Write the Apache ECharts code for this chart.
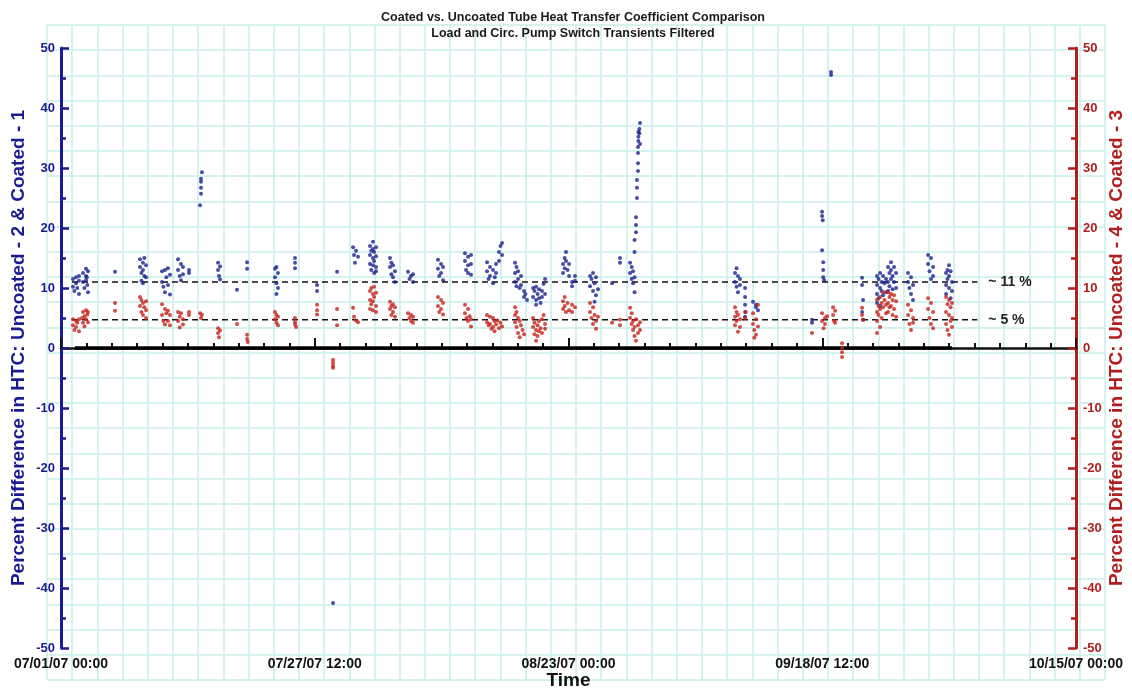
<!DOCTYPE html>
<html>
<head>
<meta charset="utf-8">
<title>HTC comparison</title>
<script src="https://cdn.jsdelivr.net/npm/echarts@6/dist/echarts.min.js"></script>
<style>
  html, body { margin: 0; padding: 0; background: #fff; }
  #main { width: 1132px; height: 690px; }
</style>
</head>
<body>
<div id="main"></div>
<script>
// x values are days after 07/01/07 00:00
var startDate = Date.UTC(2007, 6, 1);
var xTickDays = [0, 26.5, 53, 79.5, 106];

// Uncoated - 2 & Coated - 1 (left axis, blue)
var bluePoints = [
  [1.25,11.5],[1.25,10.2],[1.4,9.5],[1.57,11.8],[1.57,10.8],[1.7,10.0],[1.88,12.0],[1.88,11.2],[1.88,9.0],
  [2.3,12.5],[2.3,11.0],[2.45,10.0],[2.61,13.2],[2.61,12.0],[2.61,11.3],[2.75,10.5],[2.82,12.8],[2.82,9.3],[2.7,11.8],
  [5.64,12.7],
  [8.25,14.8],[8.25,13.5],[8.4,12.5],[8.4,11.2],[8.56,14.2],[8.56,13.0],[8.7,12.0],[8.88,13.8],[8.88,11.8],[8.56,10.8],[8.7,15.0],
  [10.55,12.8],[10.55,11.0],[10.7,10.2],[10.86,13.0],[10.86,9.3],[11.0,11.8],[11.17,13.3],[11.17,10.5],[11.38,12.2],[11.38,8.9],
  [12.22,14.8],[12.22,13.0],[12.4,12.0],[12.53,14.0],[12.53,11.3],[12.74,13.5],[12.74,12.3],
  [13.37,13.0],[13.37,12.5],
  [14.52,23.8],[14.62,25.7],[14.62,26.7],[14.62,27.7],[14.62,28.2],[14.72,29.3],
  [16.4,14.2],[16.4,13.0],[16.5,12.0],[16.61,13.6],[16.61,11.4],
  [18.38,9.7],
  [19.43,14.3],[19.43,13.2],
  [22.35,13.2],[22.35,11.8],[22.5,10.8],[22.5,9.0],[22.66,12.5],[22.66,10.0],[22.5,13.5],
  [24.44,15.0],[24.44,14.2],[24.44,13.3],
  [26.74,10.5],[26.74,9.5],
  [28.41,-42.5],
  [28.83,12.7],
  [30.5,16.8],[30.6,15.5],[30.81,16.2],[31.02,15.2],[30.7,14.2],
  [32.27,17.0],[32.27,15.5],[32.27,14.0],[32.4,16.2],[32.4,13.0],[32.58,17.7],[32.58,16.5],[32.58,15.0],[32.58,13.8],
  [32.7,16.0],[32.7,14.5],[32.7,12.5],[32.9,16.8],[32.9,15.3],[32.9,13.5],[32.9,12.8],
  [34.36,15.0],[34.36,13.5],[34.5,14.2],[34.5,12.3],[34.67,13.8],[34.67,11.8],[34.88,12.8],[34.88,11.0],
  [36.24,12.7],[36.4,11.5],[36.55,12.0],[36.76,11.0],[36.76,12.3],
  [39.37,14.7],[39.37,13.2],[39.5,12.0],[39.69,14.0],[39.69,12.5],[39.9,13.5],[39.9,11.3],
  [42.19,15.8],[42.19,14.5],[42.3,13.0],[42.51,15.2],[42.51,13.8],[42.51,12.5],[42.82,15.5],[42.82,14.0],[42.82,12.2],
  [44.49,14.3],[44.49,12.8],[44.65,11.5],[44.8,13.5],[44.8,12.0],[45.12,13.0],[45.12,10.8],[45.3,11.8],[45.43,14.0],
  [45.43,12.5],[45.74,16.0],[45.74,14.5],[45.9,17.0],[46.06,17.5],[46.06,15.5],
  [47.42,14.2],[47.42,12.5],[47.42,11.0],[47.57,13.5],[47.57,10.3],[47.73,12.8],[47.73,11.5],[47.9,10.0],
  [48.04,12.0],[48.04,10.5],[48.36,9.5],[48.36,8.5],[48.5,9.0],[48.67,8.0],
  [49.3,10.0],[49.3,8.5],[49.45,9.5],[49.61,10.2],[49.61,8.0],[49.61,7.2],[49.77,9.0],[49.92,9.8],[49.92,8.3],
  [50.08,7.5],[50.23,9.5],[50.23,8.5],[50.4,10.7],[50.55,11.5],[50.55,9.0],
  [52.43,14.0],[52.43,12.5],[52.6,15.0],[52.6,13.3],[52.74,16.0],[52.74,14.5],[52.9,13.0],[53.06,12.0],[53.06,14.0],
  [53.37,11.0],[53.37,10.3],[53.68,12.0],[53.68,11.2],
  [55.25,12.0],[55.25,10.3],[55.4,11.5],[55.56,12.5],[55.56,9.5],[55.72,10.8],[55.87,11.8],[55.87,8.8],[56.08,9.8],[55.72,7.7],
  [57.55,10.8],
  [58.38,15.0],[58.38,14.2],
  [59.43,14.2],[59.43,12.5],[59.6,13.5],[59.6,11.5],[59.74,12.8],[59.74,10.8],[59.9,9.3],[59.9,11.8],
  [59.9,16.0],[59.9,18.0],[60.05,19.3],[60.05,20.5],[60.05,21.8],[60.15,25.0],[60.15,26.7],[60.15,28.0],
  [60.26,29.5],[60.26,30.8],[60.26,32.5],[60.26,33.5],[60.3,34.5],[60.3,35.2],[60.3,36.0],[60.4,36.5],
  [60.4,35.8],[60.47,34.0],[60.47,37.5],
  [70.39,12.5],[70.39,11.0],[70.55,13.3],[70.55,10.2],[70.7,12.0],[70.7,9.3],[70.91,11.5],[70.91,10.5],
  [71.44,10.0],[71.44,8.5],[71.44,7.2],[71.5,6.0],[71.44,5.2],
  [72.27,7.7],[72.58,7.2],[72.79,6.3],[72.58,6.8],
  [78.43,4.7],[78.43,4.2],
  [79.48,22.7],[79.48,22.0],[79.55,21.3],[79.48,16.3],[79.6,14.3],[79.6,13.0],[79.6,11.8],[79.7,11.3],
  [80.42,46.0],[80.42,45.5],
  [83.66,11.7],[83.66,10.5],[83.76,8.0],[83.66,6.0],[83.76,4.7],
  [85.22,12.0],[85.22,10.5],[85.22,9.0],[85.22,7.5],[85.38,11.5],[85.38,8.3],[85.54,12.5],[85.54,10.0],[85.54,7.0],
  [85.7,11.0],[85.7,9.5],[85.85,12.0],[85.85,8.8],[86.0,10.8],[86.16,11.5],[86.16,9.3],
  [86.37,13.5],[86.37,11.0],[86.37,9.5],[86.52,12.5],[86.52,10.3],[86.68,14.3],[86.68,13.0],[86.68,11.5],
  [86.84,12.0],[86.84,9.8],[87.0,13.5],[87.0,11.0],[87.21,12.5],[87.21,10.0],
  [88.46,12.5],[88.46,11.0],[88.6,10.0],[88.77,11.8],[88.77,9.0],[88.98,10.5],[88.98,8.0],
  [90.55,15.5],[90.55,14.0],[90.7,12.8],[90.86,15.0],[90.86,11.5],[91.07,13.5],[91.07,12.0],
  [92.43,12.5],[92.43,10.5],[92.43,9.0],[92.58,13.0],[92.58,11.5],[92.74,13.8],[92.74,12.0],[92.74,10.0],
  [92.9,12.8],[92.9,8.3],[93.05,11.0],[93.05,9.5]
];

// Uncoated - 4 & Coated - 3 (right axis, red)
var redPoints = [
  [1.25,4.8],[1.25,3.8],[1.4,3.0],[1.57,4.5],[1.57,3.5],[1.7,4.2],[1.88,4.8],[1.88,2.8],
  [2.2,5.0],[2.3,6.0],[2.3,4.2],[2.45,5.3],[2.45,3.6],[2.61,6.3],[2.61,4.8],[2.75,5.6],[2.82,4.3],[2.82,6.0],
  [5.64,7.5],[5.64,6.2],
  [8.25,8.5],[8.25,7.0],[8.4,6.0],[8.4,8.0],[8.56,7.5],[8.56,5.5],[8.7,6.8],[8.88,7.8],[8.88,6.3],[8.88,5.0],
  [10.55,7.3],[10.55,5.5],[10.7,4.5],[10.86,6.5],[10.86,3.9],[11.0,5.8],[11.17,6.2],[11.17,4.5],[11.38,5.5],[11.38,3.8],
  [12.22,6.0],[12.22,4.5],[12.4,5.2],[12.4,3.4],[12.53,5.8],[12.74,4.8],[12.74,3.9],
  [13.37,6.0],[13.37,5.5],
  [14.52,5.8],[14.62,5.0],[14.72,5.5],
  [16.4,3.3],[16.4,2.5],[16.5,1.8],[16.61,2.9],
  [18.38,4.0],
  [19.43,2.2],[19.43,1.5],[19.5,1.0],
  [22.35,6.0],[22.35,4.8],[22.5,5.5],[22.5,4.2],[22.66,5.2],[22.66,3.8],
  [24.44,5.0],[24.44,4.3],[24.55,3.5],[24.44,3.9],
  [26.74,7.2],[26.74,6.3],[26.74,5.6],
  [28.41,-2.0],[28.41,-2.5],[28.41,-3.0],[28.41,-3.3],
  [28.83,6.5],[28.83,3.8],
  [30.5,6.7],[30.6,5.2],[30.81,4.6],[31.02,4.3],
  [32.27,9.5],[32.27,8.0],[32.27,6.5],[32.4,10.0],[32.4,7.3],[32.58,9.0],[32.58,7.8],[32.58,6.3],
  [32.7,10.2],[32.7,8.5],[32.9,9.2],[32.9,7.0],[32.9,6.0],
  [34.36,7.7],[34.36,6.5],[34.5,7.0],[34.5,5.5],[34.67,7.3],[34.67,6.0],[34.88,6.8],[34.88,5.2],
  [36.24,5.8],[36.4,5.0],[36.55,5.5],[36.55,4.5],[36.76,4.2],[36.76,5.2],
  [39.37,8.5],[39.37,7.0],[39.5,6.0],[39.69,8.0],[39.69,6.5],[39.9,7.5],[39.9,5.6],
  [42.19,7.2],[42.19,5.8],[42.35,5.0],[42.51,6.5],[42.51,4.5],[42.67,5.3],[42.82,4.8],[42.82,3.6],
  [44.49,5.5],[44.49,4.3],[44.65,3.8],[44.8,5.2],[44.8,4.0],[44.96,3.2],[45.12,5.0],[45.12,3.5],
  [45.28,4.5],[45.28,2.8],[45.43,3.9],[45.59,4.6],[45.74,3.3],[45.9,4.2],[46.06,3.6],
  [47.42,6.8],[47.42,5.5],[47.42,4.3],[47.57,6.0],[47.57,3.5],[47.73,5.0],[47.73,2.5],[47.9,4.5],[47.9,1.8],
  [48.04,3.8],[48.2,3.0],[48.36,2.3],
  [49.3,5.0],[49.3,3.5],[49.45,2.3],[49.45,4.2],[49.61,3.0],[49.61,1.2],[49.77,3.8],[49.77,2.0],[49.92,4.5],
  [49.92,2.8],[50.08,3.3],[50.23,4.8],[50.23,2.5],[50.4,5.5],[50.55,4.0],[50.55,3.2],
  [52.43,7.8],[52.43,6.5],[52.6,8.5],[52.6,7.0],[52.74,6.0],[52.9,7.5],[53.06,6.3],[53.37,7.2],[53.37,6.0],[53.68,6.8],
  [55.25,7.5],[55.25,6.0],[55.4,5.0],[55.56,6.8],[55.56,4.0],[55.72,5.5],[55.87,4.5],[55.87,3.2],[56.08,5.2],
  [57.55,4.2],
  [58.38,4.7],[58.38,3.8],
  [59.43,6.7],[59.43,5.0],[59.6,4.0],[59.6,5.8],[59.74,3.0],[59.74,4.5],[59.9,2.0],[59.9,3.5],[60.05,1.2],
  [60.05,4.8],[60.26,3.8],[60.26,2.5],[60.47,4.3],[60.47,3.0],
  [70.39,6.8],[70.39,5.2],[70.39,3.8],[70.55,6.0],[70.55,4.5],[70.7,5.5],[70.7,2.7],[70.91,4.8],[70.91,3.5],
  [71.44,6.0],[71.44,5.0],
  [72.27,5.8],[72.27,4.0],[72.4,3.0],[72.58,4.8],[72.58,2.2],[72.79,3.6],[72.79,7.2],[72.4,1.7],
  [78.43,2.5],
  [79.48,5.8],[79.48,4.5],[79.64,3.3],[79.79,5.0],[79.79,4.0],[80.0,5.3],
  [80.63,6.8],[80.63,5.5],[80.74,4.5],[80.84,6.2],[80.84,4.2],
  [81.57,0.8],[81.57,0.0],[81.57,-0.7],[81.57,-1.5],
  [83.66,6.7],[83.66,5.5],[83.76,4.7],
  [85.22,8.0],[85.22,6.0],[85.22,4.5],[85.22,2.5],[85.38,7.0],[85.38,5.5],[85.54,8.5],[85.54,6.5],[85.54,3.5],
  [85.7,7.5],[85.7,5.0],[85.85,9.3],[85.85,6.8],[86.0,8.0],[86.16,7.2],[86.16,5.8],
  [86.37,9.3],[86.37,7.5],[86.37,6.0],[86.52,8.5],[86.52,6.8],[86.68,9.0],[86.68,7.0],[86.84,8.0],[86.84,5.5],
  [87.0,8.8],[87.0,6.5],[87.21,7.8],[87.21,5.2],
  [88.46,7.2],[88.46,5.5],[88.6,4.0],[88.77,6.3],[88.77,3.0],[88.98,5.0],[88.98,4.2],
  [90.55,8.3],[90.55,6.5],[90.7,5.0],[90.86,7.5],[90.86,4.0],[91.07,6.0],[91.07,3.3],
  [92.43,8.5],[92.43,6.0],[92.43,4.0],[92.58,7.3],[92.58,3.0],[92.74,8.0],[92.74,5.5],[92.74,2.2],
  [92.9,6.8],[92.9,4.5],[93.05,7.5],[93.05,5.0],[93.05,3.5]
];

// reference lines
var zeroLine = [[1.46, 0], [93.05, 0]];
var line11 = [[1.15, 11], [95.7, 11]];
var line5 = [[1.15, 4.7], [95.7, 4.7]];

var FONT = '"Liberation Sans", Arial, sans-serif';
var BLUE = '#1a1a92';
var RED = '#b01e1e';
var PAPER = '#c6efe9';

function pad(n) { return (n < 10 ? '0' : '') + n; }
function dayLabel(v) {
  var d = new Date(startDate + v * 86400000);
  return pad(d.getUTCMonth() + 1) + '/' + pad(d.getUTCDate()) + '/' +
    pad(d.getUTCFullYear() % 100) + ' ' + pad(d.getUTCHours()) + ':' + pad(d.getUTCMinutes());
}

var myChart = echarts.init(document.getElementById('main'));

var option = {
  backgroundColor: '#fff',
  animation: false,
  title: {
    text: 'Coated vs. Uncoated Tube Heat Transfer Coefficient Comparison\nLoad and Circ. Pump Switch Transients Filtered',
    left: 568,
    top: 5,
    textAlign: 'center',
    textStyle: { fontFamily: FONT, fontSize: 12.5, fontWeight: 'bold', color: '#1a1a1a', lineHeight: 16 }
  },
  grid: [
    { left: 61, right: 56, top: 48, bottom: 42, containLabel: false, outerBoundsMode: 'none' },
    // graph-paper background
    { left: 47, right: 27, top: 25, bottom: 10, z: 0, outerBoundsMode: 'none' }
  ],
  xAxis: [
    {
      type: 'value',
      gridIndex: 0,
      min: xTickDays[0],
      max: xTickDays[xTickDays.length - 1],
      interval: 26.5,
      name: 'Time',
      nameLocation: 'middle',
      nameGap: 23,
      nameMoveOverlap: false,
      nameTextStyle: { fontFamily: FONT, fontSize: 19, fontWeight: 'bold', color: '#111' },
      axisLine: { lineStyle: { color: '#111', width: 2.5 } },
      axisTick: { inside: true, length: 10, lineStyle: { color: '#111', width: 2 } },
      minorTick: { show: true, splitNumber: 10, length: 5, lineStyle: { color: '#111', width: 2 } },
      axisLabel: {
        formatter: dayLabel, margin: 9, showMinLabel: true, showMaxLabel: true,
        fontFamily: FONT, fontSize: 14, fontWeight: 'bold', color: '#111'
      },
      splitLine: { show: false }
    },
    {
      type: 'value', gridIndex: 1, min: 0, max: 42, interval: 1,
      axisLine: { show: false }, axisTick: { show: false }, axisLabel: { show: false },
      splitLine: { show: true, lineStyle: { color: PAPER, width: 1.5 } }
    }
  ],
  yAxis: [
    {
      type: 'value',
      gridIndex: 0,
      min: -50, max: 50, interval: 10,
      position: 'left',
      name: 'Percent Difference in HTC: Uncoated - 2 & Coated - 1',
      nameLocation: 'middle',
      nameGap: 33,
      nameMoveOverlap: false,
      nameTextStyle: { fontFamily: FONT, fontSize: 19, fontWeight: 'bold', color: BLUE },
      axisLine: { show: true, lineStyle: { color: BLUE, width: 3 } },
      axisTick: { inside: true, length: 8, lineStyle: { color: BLUE, width: 2.5 } },
      minorTick: { show: true, splitNumber: 2, length: 5, lineStyle: { color: BLUE, width: 2.5 } },
      axisLabel: { margin: 6, fontFamily: FONT, fontSize: 13, fontWeight: 'bold', color: BLUE },
      splitLine: { show: false }
    },
    {
      type: 'value',
      gridIndex: 0,
      min: -50, max: 50, interval: 10,
      position: 'right',
      name: 'Percent Difference in HTC: Uncoated - 4 & Coated - 3',
      nameLocation: 'middle',
      nameGap: 31,
      nameRotate: 90,
      nameMoveOverlap: false,
      nameTextStyle: { fontFamily: FONT, fontSize: 19, fontWeight: 'bold', color: RED },
      axisLine: { show: true, lineStyle: { color: RED, width: 3 } },
      axisTick: { inside: true, length: 8, lineStyle: { color: RED, width: 2.5 } },
      minorTick: { show: true, splitNumber: 2, length: 5, lineStyle: { color: RED, width: 2.5 } },
      axisLabel: { margin: 7, fontFamily: FONT, fontSize: 13, fontWeight: 'bold', color: RED },
      splitLine: { show: false }
    },
    {
      type: 'value', gridIndex: 1, min: 0, max: 26, interval: 1,
      axisLine: { show: false }, axisTick: { show: false }, axisLabel: { show: false },
      splitLine: { show: true, lineStyle: { color: PAPER, width: 1.5 } }
    }
  ],
  series: [
    { type: 'scatter', xAxisIndex: 1, yAxisIndex: 2, data: [], silent: true },
    {
      name: 'zero', type: 'line', xAxisIndex: 0, yAxisIndex: 0,
      data: zeroLine, symbol: 'none', lineStyle: { color: '#000', width: 3.5 }, z: 3
    },
    {
      name: '~ 11 %', type: 'line', xAxisIndex: 0, yAxisIndex: 0,
      data: line11, symbol: 'none', lineStyle: { color: '#111', width: 1.6, type: [6, 4] }, z: 4,
      endLabel: { show: true, formatter: '~ 11 %', distance: 11, fontFamily: FONT, fontSize: 14, fontWeight: 'bold', color: '#222' }
    },
    {
      name: '~ 5 %', type: 'line', xAxisIndex: 0, yAxisIndex: 0,
      data: line5, symbol: 'none', lineStyle: { color: '#111', width: 1.6, type: [6, 4] }, z: 4,
      endLabel: { show: true, formatter: '~ 5 %', distance: 11, fontFamily: FONT, fontSize: 14, fontWeight: 'bold', color: '#222' }
    },
    {
      name: 'Uncoated - 2 & Coated - 1', type: 'scatter', xAxisIndex: 0, yAxisIndex: 0,
      data: bluePoints, symbolSize: 4, itemStyle: { color: '#1a2290' }, z: 5
    },
    {
      name: 'Uncoated - 4 & Coated - 3', type: 'scatter', xAxisIndex: 0, yAxisIndex: 1,
      data: redPoints, symbolSize: 4, itemStyle: { color: '#c8201a' }, z: 5
    }
  ]
};

myChart.setOption(option);
window.onresize = myChart.resize;
</script>
</body>
</html>
